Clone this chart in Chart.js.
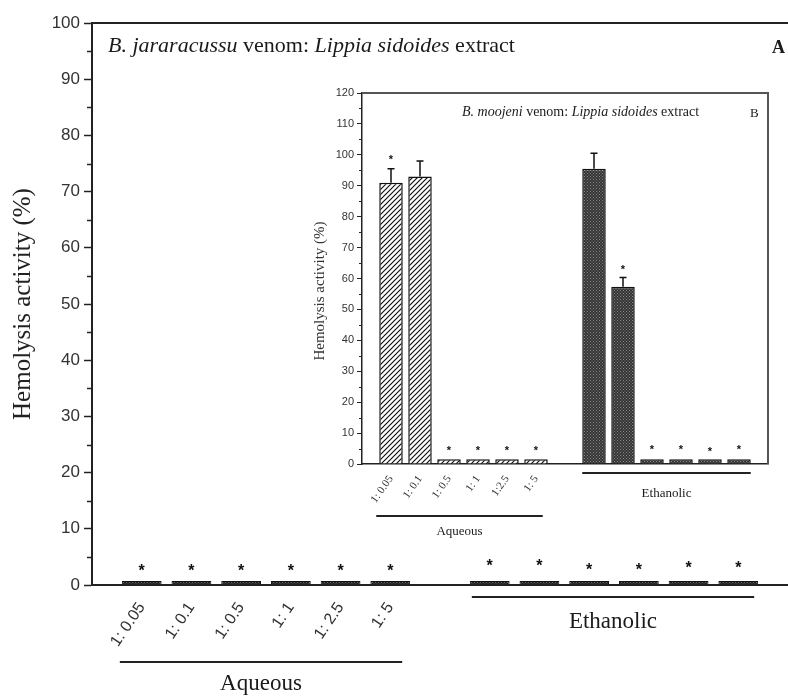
<!DOCTYPE html>
<html>
<head>
<meta charset="utf-8">
<script src="https://cdn.jsdelivr.net/npm/chart.js@4"></script>
<style>
  html, body { margin: 0; padding: 0; background: #fff; overflow: hidden; }
  #wrap { position: relative; width: 788px; height: 696px; }
  #main { position: absolute; left: 0; top: 0; }
  #inset { position: absolute; left: 290px; top: 80px; }
</style>
</head>
<body>
<div id="wrap">
  <canvas id="main" width="788" height="696"></canvas>
  <canvas id="inset" width="498" height="470"></canvas>
</div>
<script>
// dilution ratios (venom : extract)
const doses = ["1: 0.05", "1: 0.1", "1: 0.5", "1: 1", "1: 2.5", "1: 5"];
const insetDoses = ["1: 0.05", "1: 0.1", "1: 0.5", "1: 1", "1:2.5", "1: 5"];

// A - B. jararacussu venom
const mainAqueous = [0.7, 0.7, 0.7, 0.7, 0.7, 0.7];
const mainEthanolic = [0.7, 0.7, 0.7, 0.7, 0.7, 0.7];
const mainStarAqueous = [3.2, 3.2, 3.2, 3.2, 3.2, 3.2];
const mainStarEthanolic = [4, 4, 3.4, 3.4, 3.7, 3.7];

// B - B. moojeni venom
const insetAqueous = [91, 93, 1.5, 1.5, 1.5, 1.5];
const insetAqueousErr = [4.5, 5, 0, 0, 0, 0];
const insetEthanolic = [95.5, 57.3, 1.5, 1.5, 1.5, 1.5];
const insetEthanolicErr = [5, 3, 0, 0, 0, 0];
const insetStarAqueous = [99.5, null, 5.2, 5.2, 5.2, 5.2];
const insetStarEthanolic = [null, 63.7, 5.5, 5.5, 5, 5.5];

// slot layout: empty, 6 aqueous, empty, 6 ethanolic, empty
function slots(aq, eth) { return [null, ...aq, null, ...eth, null]; }
const slotLabels = slots(doses, doses).map(v => v || "");

function hatchPattern() {
  const c = document.createElement("canvas");
  c.width = 5; c.height = 5;
  const g = c.getContext("2d");
  g.fillStyle = "#fff"; g.fillRect(0, 0, 5, 5);
  g.strokeStyle = "#111"; g.lineWidth = 1.2;
  g.beginPath();
  g.moveTo(-1, 6); g.lineTo(6, -1);
  g.moveTo(-1, 1); g.lineTo(1, -1);
  g.moveTo(4, 6); g.lineTo(6, 4);
  g.stroke();
  return g.createPattern(c, "repeat");
}
function dotPattern(bg, dot) {
  const c = document.createElement("canvas");
  c.width = 3; c.height = 3;
  const g = c.getContext("2d");
  g.fillStyle = bg; g.fillRect(0, 0, 3, 3);
  g.fillStyle = dot; g.fillRect(0, 0, 1, 1); g.fillRect(1.5, 1.5, 1, 1);
  return g.createPattern(c, "repeat");
}
const hatch = hatchPattern();
const dark = dotPattern("#333", "#8a8a8a");
const darkMain = dotPattern("#222", "#666");

function drawStars(chart, stars, size) {
  const {ctx} = chart;
  const meta = chart.getDatasetMeta(0);
  ctx.save();
  ctx.fillStyle = "#111";
  ctx.font = "bold " + size + "px 'Liberation Sans'";
  ctx.textAlign = "center";
  ctx.textBaseline = "alphabetic";
  stars.forEach((v, i) => {
    if (v == null) return;
    const x = meta.data[i].x;
    const y = chart.scales.y.getPixelForValue(v);
    ctx.fillText("*", x, y + size * 0.56);
  });
  ctx.restore();
}

function drawMixed(ctx, parts, x, y, size) {
  parts.forEach(([t, it]) => {
    ctx.font = (it ? "italic " : "") + size + "px 'Liberation Serif'";
    ctx.fillText(t, x, y);
    x += ctx.measureText(t).width;
  });
}

function groupLine(chart, i0, i1, dl, dr, dy, text, ty, size) {
  const {ctx} = chart;
  const meta = chart.getDatasetMeta(0);
  const a = meta.data[i0], b = meta.data[i1];
  const x0 = a.x - a.width / 2 + dl, x1 = b.x + b.width / 2 + dr;
  const base = chart.chartArea.bottom;
  ctx.save();
  ctx.strokeStyle = "#222"; ctx.lineWidth = 2;
  ctx.beginPath(); ctx.moveTo(x0, base + dy); ctx.lineTo(x1, base + dy); ctx.stroke();
  ctx.fillStyle = "#1a1a1a";
  ctx.font = size + "px 'Liberation Serif'";
  ctx.textAlign = "center"; ctx.textBaseline = "middle";
  ctx.fillText(text, (x0 + x1) / 2, base + ty);
  ctx.restore();
}

function minorTicks(chart, len, step, width) {
  const {ctx} = chart;
  const y = chart.scales.y;
  ctx.save();
  ctx.strokeStyle = "#222"; ctx.lineWidth = width;
  for (let v = y.min + step / 2; v < y.max; v += step) {
    const p = Math.round(y.getPixelForValue(v)) + 0.5;
    ctx.beginPath(); ctx.moveTo(y.right - len, p); ctx.lineTo(y.right, p); ctx.stroke();
  }
  ctx.restore();
}

const mainDecor = {
  id: "mainDecor",
  afterDraw(chart) {
    const {ctx, chartArea: ca} = chart;
    ctx.save();
    ctx.strokeStyle = "#222"; ctx.lineWidth = 2;
    ctx.beginPath(); ctx.moveTo(ca.left, ca.top); ctx.lineTo(ca.right, ca.top); ctx.stroke();
    ctx.fillStyle = "#1a1a1a"; ctx.textBaseline = "alphabetic"; ctx.textAlign = "left";
    drawMixed(ctx, [["B. jararacussu", true], [" venom: ", false], ["Lippia sidoides", true], [" extract", false]], 108, 52, 22);
    ctx.font = "bold 18px 'Liberation Serif'";
    ctx.fillText("A", 772, 53);
    ctx.restore();
    minorTicks(chart, 5, 10, 1.5);
    drawStars(chart, slots(mainStarAqueous, mainStarEthanolic), 16);
    groupLine(chart, 1, 6, -2, -8, 77, "Aqueous", 99, 23);
    groupLine(chart, 8, 13, 2, -4, 12, "Ethanolic", 37, 23);
  }
};

const insetDecor = {
  id: "insetDecor",
  afterDraw(chart) {
    const {ctx, chartArea: ca} = chart;
    const meta = chart.getDatasetMeta(0);
    const y = chart.scales.y;
    ctx.save();
    ctx.strokeStyle = "#555"; ctx.lineWidth = 2;
    ctx.beginPath(); ctx.moveTo(ca.left, ca.top); ctx.lineTo(ca.right, ca.top); ctx.lineTo(ca.right, ca.bottom); ctx.stroke();
    // error bars (upper only)
    const vals = slots(insetAqueous, insetEthanolic);
    const errs = slots(insetAqueousErr, insetEthanolicErr);
    ctx.strokeStyle = "#111"; ctx.lineWidth = 1.5;
    vals.forEach((v, i) => {
      if (v == null || !errs[i]) return;
      const x = meta.data[i].x;
      const y0 = y.getPixelForValue(v), y1 = y.getPixelForValue(v + errs[i]);
      ctx.beginPath();
      ctx.moveTo(x, y0); ctx.lineTo(x, y1);
      ctx.moveTo(x - 3.5, y1); ctx.lineTo(x + 3.5, y1);
      ctx.stroke();
    });
    ctx.fillStyle = "#1a1a1a"; ctx.textBaseline = "alphabetic"; ctx.textAlign = "left";
    drawMixed(ctx, [["B. moojeni", true], [" venom: ", false], ["Lippia sidoides", true], [" extract", false]], 172, 36, 14);
    ctx.font = "13px 'Liberation Serif'";
    ctx.fillText("B", 460, 37);
    // axis title
    ctx.save();
    ctx.translate(30, 211); ctx.rotate(-Math.PI / 2);
    ctx.textAlign = "center"; ctx.textBaseline = "middle";
    ctx.font = "15px 'Liberation Serif'"; ctx.fillStyle = "#333";
    ctx.fillText("Hemolysis activity (%)", 0, 0);
    ctx.restore();
    ctx.restore();
    minorTicks(chart, 3, 10, 1);
    drawStars(chart, slots(insetStarAqueous, insetStarEthanolic), 11);
    groupLine(chart, 1, 6, -3, -5, 52, "Aqueous", 68, 13);
    groupLine(chart, 8, 13, 0, 0, 9, "Ethanolic", 30, 13);
  }
};

new Chart(document.getElementById("main"), {
  type: "bar",
  data: {
    labels: slotLabels,
    datasets: [{
      data: slots(mainAqueous, mainEthanolic),
      backgroundColor: darkMain,
      borderColor: "#111",
      borderWidth: 1,
      barPercentage: 0.8,
      categoryPercentage: 1,
    }],
  },
  options: {
    responsive: false,
    animation: false,
    layout: { padding: { top: 23, left: 0, right: 0, bottom: 0 } },
    plugins: { legend: { display: false }, tooltip: { enabled: false } },
    scales: {
      x: {
        offset: false,
        grid: { display: false, offset: false, drawTicks: false },
        border: { color: "#222", width: 2 },
        ticks: {
          autoSkip: false, minRotation: 56, maxRotation: 56, padding: 14,
          color: "#333", font: { family: "'Liberation Sans'", size: 16 },
          callback: (v, i) => (i >= 1 && i <= 6 ? doses[i - 1] : ""),
        },
        afterFit: s => { s.height = 111; s.paddingRight = 0; s.paddingLeft = 0; },
      },
      y: {
        min: 0, max: 100,
        ticks: {
          stepSize: 10, padding: 4, color: "#333",
          font: { family: "'Liberation Sans'", size: 17 },
        },
        grid: { drawOnChartArea: false, tickLength: 8, tickColor: "#222", tickWidth: 1.5 },
        border: { color: "#222", width: 2 },
        title: {
          display: true, text: "Hemolysis activity (%)", color: "#222",
          font: { family: "'Liberation Serif'", size: 25 }, padding: { top: 8, bottom: 0 },
        },
        afterFit: s => { s.width = 92; },
      },
    },
  },
  plugins: [mainDecor],
});

const insetData = slots(insetAqueous, insetEthanolic);
new Chart(document.getElementById("inset"), {
  type: "bar",
  data: {
    labels: slotLabels,
    datasets: [{
      data: insetData,
      backgroundColor: insetData.map((v, i) => (i <= 7 ? hatch : dark)),
      borderColor: "#111",
      borderWidth: 1.5,
      barPercentage: 0.81,
      categoryPercentage: 1,
    }],
  },
  options: {
    responsive: false,
    animation: false,
    layout: { padding: { top: 13, left: 0, right: 20, bottom: 0 } },
    plugins: { legend: { display: false }, tooltip: { enabled: false } },
    scales: {
      x: {
        offset: false,
        grid: { display: false, offset: false, drawTicks: false },
        border: { color: "#222", width: 1.5 },
        ticks: {
          autoSkip: false, minRotation: 55, maxRotation: 55, padding: 9,
          color: "#333", font: { family: "'Liberation Serif'", size: 11 },
          callback: (v, i) => (i >= 1 && i <= 6 ? insetDoses[i - 1] : ""),
        },
        afterFit: s => { s.height = 86; s.paddingRight = 0; s.paddingLeft = 0; },
      },
      y: {
        min: 0, max: 120,
        ticks: {
          stepSize: 10, padding: 3, color: "#333",
          font: { family: "'Liberation Sans'", size: 11 },
        },
        grid: { drawOnChartArea: false, tickLength: 5, tickColor: "#222", tickWidth: 1 },
        border: { color: "#222", width: 1.5 },
        afterFit: s => { s.width = 72; },
      },
    },
  },
  plugins: [insetDecor],
});
</script>
</body>
</html>
